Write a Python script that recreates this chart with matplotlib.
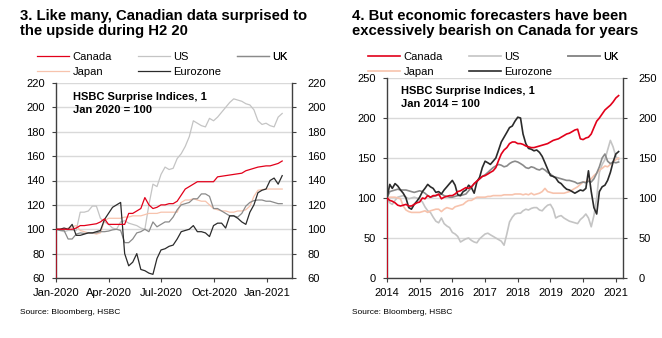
import numpy as np
import pandas as pd
import matplotlib
matplotlib.use("Agg")
import matplotlib.pyplot as plt
import matplotlib.dates as mdates

plt.rcParams['font.family'] = ['Liberation Sans', 'DejaVu Sans']

# ---- chart 3: weekly index, Jan 2020 = 100 ----
weeks20 = pd.date_range("2020-01-01", periods=57, freq="7D")

# first Canada print is 0 (series opens from zero)
can20 = [0,
         100, 100, 100, 100, 100, 101, 103, 103, 103.5, 104,
         104.5, 106, 108.5, 104, 104, 104, 104, 104, 113, 113,
         115, 117, 126, 120, 117, 118, 120, 120, 121, 121,
         123, 128, 133, 135, 137, 139, 139, 139, 139, 139,
         143, 143.5, 144, 144.5, 145, 145.5, 146, 148, 149, 150,
         151, 151.5, 152, 152, 153, 154, 156]
us20 = [100, 99, 98, 99, 99, 99, 114, 114, 115, 119,
        119, 109, 106, 104, 101, 100, 106, 107, 105, 104,
        103, 101, 100, 120, 137, 135, 145, 151, 149, 150,
        158, 162, 168, 176, 189, 187, 185, 184, 191, 189,
        192, 196, 200, 204, 207, 206, 205, 203, 202, 198,
        189, 186, 187, 185, 184, 192, 195]
uk20 = [100, 99, 99, 92, 92, 96, 97, 96.5, 97, 97,
        97, 98, 98, 98.5, 99.5, 100, 99, 89, 89, 92,
        97, 98, 100, 98, 106, 102, 104, 106, 106, 110,
        116, 120, 121, 122, 125, 125, 129, 129, 127, 117,
        117, 115, 113, 111, 111, 110, 113, 119, 122, 123.5,
        124, 124, 123, 123, 122, 121, 121]
jp20 = [100, 100, 100, 101, 102, 103, 99, 98, 97, 97,
        96, 97, 107, 109, 109, 109, 109, 110, 110, 111,
        111, 111, 112, 113, 113, 113, 114, 114, 114, 114,
        114, 122, 124, 124, 125, 124, 123, 123, 120, 117,
        116, 115, 115, 114, 114, 115, 115, 116, 119, 127,
        132, 132.5, 133, 133, 133, 133, 133]
ez20 = [100, 100, 101, 100, 104, 95, 95, 96, 97, 97,
        98, 99, 108, 113, 118, 120, 122, 80, 70, 73,
        80, 67, 66, 64, 63, 76, 83, 84, 86, 87,
        92, 98, 99, 100, 103, 98, 98, 97, 94, 103,
        105, 105, 101, 111, 111, 109, 106, 104, 114, 120,
        130, 132, 133, 140, 142, 137, 144]

# ---- chart 4: monthly index, Jan 2014 = 100 ----
months14 = pd.date_range("2014-01-01", periods=86, freq="MS")

can14 = [0,
         100, 97, 96, 94, 91, 90, 91, 92, 90, 90, 92, 94,
         95, 100, 99, 103, 101, 103, 103, 105, 99, 101, 102, 103,
         103, 105, 108, 109, 111, 113, 112, 114, 118, 121, 124, 127,
         128, 130, 132, 134, 138, 147, 155, 160, 163, 168, 170, 170,
         168, 168, 167, 165, 164, 163, 163, 164, 165, 166, 167, 168,
         170, 172, 173, 174, 176, 178, 180, 181, 183, 185, 186, 174,
         173, 175, 176, 180, 188, 196, 200, 205, 210, 213, 216, 220,
         225, 228]
us14 = [100, 94, 92, 97, 101, 102, 103, 101, 99, 100, 101, 100,
        98, 95, 89, 84, 82, 76, 71, 69, 75, 68, 65, 63,
        57, 55, 52, 45, 47, 49, 50, 47, 45, 44, 49, 52,
        55, 56, 54, 52, 50, 48, 46, 41, 55, 70, 76, 80,
        81, 81, 84, 86, 85, 87, 88, 88, 85, 84, 88, 91,
        92, 86, 75, 77, 78, 75, 73, 71, 70, 69, 68, 73,
        76, 80, 75, 64, 78, 100, 132, 142, 148, 160, 172, 164,
        152, 148]
uk14 = [100, 108, 109, 110, 111, 110, 110, 110, 109, 108, 107, 108,
        109, 108, 106, 103, 101, 102, 103, 104, 105, 103, 102, 101,
        101, 102, 103, 103, 104, 105, 109, 113, 118, 121, 124, 127,
        129, 132, 135, 138, 140, 142, 141, 139, 140, 143, 145, 146,
        145, 143, 141, 138, 137, 139, 138, 136, 135, 137, 135, 132,
        130, 127, 126, 125, 124, 123, 122, 122, 121, 120, 118, 119,
        120, 119, 121, 120, 124, 131, 139, 150, 155, 146, 143, 145,
        144, 145]
jp14 = [100, 101, 101, 101, 100, 99, 90, 85, 83, 82, 82, 82,
        82, 83, 84, 82, 84, 85, 86, 86, 83, 86, 88, 87,
        86, 89, 90, 91, 92, 95, 97, 97, 99, 101, 101, 101,
        101, 102, 102, 103, 103, 103, 103, 104, 104, 104, 104, 105,
        105, 105, 104, 105, 104, 106, 104, 105, 106, 108, 112, 108,
        107, 106, 106, 106, 106, 106, 107, 108, 110, 112, 114, 117,
        120, 120, 122, 124, 128, 131, 135, 137, 140, 139, 142, 145,
        148, 150]
ez14 = [100, 117, 112, 118, 115, 110, 106, 100, 88, 86, 92, 96,
        101, 108, 112, 117, 114, 112, 107, 108, 105, 110, 114, 118,
        122, 116, 104, 103, 108, 110, 116, 113, 106, 120, 126, 138,
        146, 144, 142, 146, 150, 160, 170, 176, 182, 188, 190, 196,
        201, 200, 180, 168, 162, 161, 159, 160, 157, 152, 144, 136,
        128, 127, 125, 120, 118, 114, 111, 110, 108, 106, 108, 110,
        109, 112, 134, 108, 88, 80, 108, 114, 116, 122, 132, 145,
        155, 158]

RED = '#e2001a'
LGRAY = '#c4c4c4'
MGRAY = '#8a8a8a'
PEACH = '#f7c3ad'
DARK = '#2b2b2b'
AXC = '#404040'

W, H = 662, 338
fig = plt.figure(figsize=(W / 100, H / 100), dpi=100)


def px_axes(x0, y0, x1, y1):
    return fig.add_axes([x0 / W, 1 - y1 / H, (x1 - x0) / W, (y1 - y0) / H])


def style(ax, ylim, yticks):
    ax.set_ylim(*ylim)
    ax.set_yticks(yticks)
    ax.grid(axis='y', color='#d9d9d9', lw=1)
    ax.set_axisbelow(True)
    ax.spines['top'].set_visible(False)
    for s in ('left', 'right', 'bottom'):
        ax.spines[s].set_color(AXC)
        ax.spines[s].set_linewidth(1)
    ax.tick_params(axis='y', left=True, right=False, direction='out', length=3,
                   color=AXC, pad=5, labelsize=8)
    ax.tick_params(axis='x', direction='out', length=3, color=AXC, pad=4, labelsize=8)
    # right-hand scale mirrors the left one
    rx = ax.twinx()
    rx.set_ylim(*ylim)
    rx.set_yticks(yticks)
    for s in rx.spines.values():
        s.set_visible(False)
    rx.tick_params(axis='y', direction='out', length=3, color=AXC, pad=8, labelsize=8)


def draw(ax, dates, can, us, uk, jp, ez, lw):
    can_dates = dates.insert(0, dates[0])
    h_us, = ax.plot(dates, us, color=LGRAY, lw=lw, label='US')
    h_jp, = ax.plot(dates, jp, color=PEACH, lw=lw, label='Japan')
    h_uk, = ax.plot(dates, uk, color=MGRAY, lw=lw, label='UK')
    h_ca, = ax.plot(can_dates, can, color=RED, lw=lw, label='Canada', zorder=3)
    h_ez, = ax.plot(dates, ez, color=DARK, lw=lw, label='Eurozone')
    return [[h_ca, h_jp], [h_us, h_ez], [h_uk]]


def legend(ax, columns, xs, y):
    for col, x in zip(columns, xs):
        lg = ax.legend(handles=col, loc='upper left',
                       bbox_to_anchor=(x / W, 1 - y / H), bbox_transform=fig.transFigure,
                       frameon=False, fontsize=8, handlelength=2.9, handletextpad=0.3,
                       labelspacing=0.45, borderpad=0, borderaxespad=0)
        ax.add_artist(lg)


# left chart
ax1 = px_axes(56, 83, 292, 278)
cols = draw(ax1, weeks20, can20, us20, uk20, jp20, ez20, 0.9)
style(ax1, (60, 220), np.arange(60, 221, 20))
ax1.set_xlim(pd.Timestamp('2020-01-01'), pd.Timestamp('2021-02-13'))
ax1.xaxis.set_major_locator(mdates.MonthLocator(bymonth=[1, 4, 7, 10]))
ax1.xaxis.set_major_formatter(mdates.DateFormatter('%b-%Y'))
legend(ax1, cols, (37, 138, 237), 52)
ax1.text(0.072, 0.955, 'HSBC Surprise Indices, 1\nJan 2020 = 100', transform=ax1.transAxes,
         ha='left', va='top', fontsize=8, fontweight='bold', linespacing=1.35)

# right chart
ax2 = px_axes(387, 78, 623, 278)
cols = draw(ax2, months14, can14, us14, uk14, jp14, ez14, 1.2)
style(ax2, (0, 250), np.arange(0, 251, 50))
ax2.set_xlim(pd.Timestamp('2014-01-01'), pd.Timestamp('2021-03-22'))
ax2.xaxis.set_major_locator(mdates.YearLocator())
ax2.xaxis.set_major_formatter(mdates.DateFormatter('%Y'))
legend(ax2, cols, (368, 469, 568), 52)
ax2.text(0.059, 0.958, 'HSBC Surprise Indices, 1\nJan 2014 = 100', transform=ax2.transAxes,
         ha='left', va='top', fontsize=8, fontweight='bold', linespacing=1.35)

# titles and sources
fig.text(20.5 / W, 1 - 9 / H, '3. Like many, Canadian data surprised to\nthe upside during H2 20',
         ha='left', va='top', fontsize=10.7, fontweight='bold', linespacing=1.1)
fig.text(351.5 / W, 1 - 9 / H, '4. But economic forecasters have been\nexcessively bearish on Canada for years',
         ha='left', va='top', fontsize=10.7, fontweight='bold', linespacing=1.1)
fig.text(20.5 / W, 1 - 313 / H, 'Source: Bloomberg, HSBC', ha='left', va='center', fontsize=6)
fig.text(351.5 / W, 1 - 313 / H, 'Source: Bloomberg, HSBC', ha='left', va='center', fontsize=6)

fig.savefig('out.png', dpi=100)
